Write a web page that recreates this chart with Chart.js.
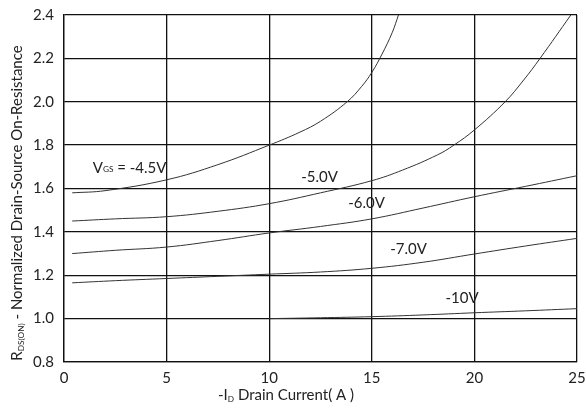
<!DOCTYPE html>
<html>
<head>
<meta charset="utf-8">
<script src="https://cdn.jsdelivr.net/npm/chart.js@4.4.0/dist/chart.umd.min.js"></script>
<style>
  html, body { margin: 0; padding: 0; background: #fff; }
  #wrap { width: 586px; height: 409px; }
</style>
</head>
<body>
<div id="wrap"><canvas id="chart"></canvas></div>
<script>
// -ID drain current (A) vs normalized RDS(ON), one curve per VGS
const vgs45X = [0.4, 2, 5, 7.5, 10, 11.5, 12.5, 13.8, 14.5, 15, 15.5, 16, 16.3];
const vgs45Y = [1.58, 1.59, 1.64, 1.71, 1.80, 1.86, 1.91, 2.00, 2.07, 2.135, 2.22, 2.32, 2.40];

const vgs50X = [0.4, 2.5, 5, 7.5, 10, 12.5, 15, 16.5, 18.2, 19, 20, 21.5, 22.4, 23.2, 24.7];
const vgs50Y = [1.45, 1.46, 1.47, 1.495, 1.53, 1.58, 1.636, 1.685, 1.755, 1.80, 1.87, 2.00, 2.10, 2.20, 2.40];

const vgs60X = [0.4, 2.5, 5, 7.5, 10, 12.5, 15, 17.5, 20, 22.5, 25];
const vgs60Y = [1.30, 1.315, 1.33, 1.36, 1.395, 1.425, 1.46, 1.51, 1.562, 1.61, 1.659];

const vgs70X = [0.4, 2.5, 5, 7.5, 10, 12.5, 15, 17.5, 20, 22.5, 25];
const vgs70Y = [1.165, 1.175, 1.185, 1.195, 1.205, 1.215, 1.232, 1.26, 1.298, 1.335, 1.37];

const vgs100X = [10, 12.5, 15, 17.5, 20, 22.5, 25];
const vgs100Y = [1.0, 1.004, 1.009, 1.017, 1.027, 1.036, 1.046];

const currentTicks = [0, 5, 10, 15, 20, 25];
const resistanceTicks = [0.8, 1.0, 1.2, 1.4, 1.6, 1.8, 2.0, 2.2, 2.4];

const curveNames = ['-4.5V', '-5.0V', '-6.0V', '-7.0V', '-10V'];
// where each curve label sits, in data units
const labelX = [1.4, 12.45, 14.74, 16.79, 19.4];
const labelY = [1.695, 1.653, 1.533, 1.321, 1.095];

const FONT = 'Lato, "Open Sans", sans-serif';
const INK = '#222';

function toPoints(xs, ys) {
  return xs.map((x, i) => ({ x: x, y: ys[i] }));
}

function curve(xs, ys) {
  return {
    data: toPoints(xs, ys),
    borderColor: '#333',
    borderWidth: 1,
    pointRadius: 0,
    fill: false,
    tension: 0.4
  };
}

// draws text pieces, some as subscripts, centered or left aligned at x
function drawParts(ctx, parts, x, y, size, align) {
  let total = 0;
  parts.forEach(p => {
    ctx.font = (p.sub ? size * 0.55 : size) + 'px ' + FONT;
    p.w = ctx.measureText(p.t).width;
    total += p.w;
  });
  let cx = align === 'center' ? x - total / 2 : x;
  parts.forEach(p => {
    ctx.font = (p.sub ? size * 0.55 : size) + 'px ' + FONT;
    ctx.fillText(p.t, cx, p.sub ? y + size * 0.12 : y);
    cx += p.w;
  });
}

const textPlugin = {
  id: 'texts',
  afterDraw(chart) {
    const ctx = chart.ctx;
    const xs = chart.scales.x, ys = chart.scales.y;
    ctx.save();
    ctx.fillStyle = INK;
    ctx.textAlign = 'left';
    ctx.textBaseline = 'middle';

    // curve labels
    curveNames.forEach((name, i) => {
      const px = xs.getPixelForValue(labelX[i]);
      const py = ys.getPixelForValue(labelY[i]);
      if (i === 0) {
        drawParts(ctx, [{ t: 'V' }, { t: 'GS', sub: true }, { t: ' = ' + name }], px, py, 15, 'left');
      } else {
        drawParts(ctx, [{ t: name }], px, py, 15, 'center');
      }
    });

    // x axis title
    ctx.textBaseline = 'alphabetic';
    drawParts(ctx, [{ t: '-I' }, { t: 'D', sub: true }, { t: ' Drain Current( A )' }], 286, 400, 15, 'center');

    // y axis title
    ctx.translate(22, 203);
    ctx.rotate(-Math.PI / 2);
    drawParts(ctx, [{ t: 'R' }, { t: 'DS(ON)', sub: true }, { t: ' - Normalized Drain-Source On-Resistance' }], 0, 0, 15, 'center');
    ctx.restore();
  }
};

new Chart(document.getElementById('chart'), {
  type: 'line',
  data: {
    datasets: [
      curve(vgs45X, vgs45Y),
      curve(vgs50X, vgs50Y),
      curve(vgs60X, vgs60Y),
      curve(vgs70X, vgs70Y),
      curve(vgs100X, vgs100Y)
    ]
  },
  options: {
    responsive: true,
    maintainAspectRatio: false,
    animation: false,
    layout: { padding: { top: 15, right: 9, left: 0, bottom: 0 } },
    plugins: { legend: { display: false }, tooltip: { enabled: false } },
    scales: {
      x: {
        type: 'linear',
        min: 0,
        max: 25,
        afterBuildTicks: s => { s.ticks = currentTicks.map(v => ({ value: v })); },
        afterFit: s => { s.height = 47; s.paddingLeft = 0; s.paddingRight = 0; },
        grid: { color: '#111', lineWidth: 1.3, drawTicks: false },
        border: { color: '#111', width: 1.3 },
        ticks: { color: INK, font: { family: FONT, size: 15 }, padding: 7, maxRotation: 0 }
      },
      y: {
        type: 'linear',
        min: 0.8,
        max: 2.4,
        afterBuildTicks: s => { s.ticks = resistanceTicks.map(v => ({ value: v })); },
        afterFit: s => { s.width = 64; s.paddingTop = 0; s.paddingBottom = 0; },
        grid: { color: '#111', lineWidth: 1.3, drawTicks: false },
        border: { color: '#111', width: 1.3 },
        ticks: {
          color: INK,
          font: { family: FONT, size: 15 },
          padding: 10,
          callback: v => v.toFixed(1)
        }
      }
    }
  },
  plugins: [textPlugin]
});
</script>
</body>
</html>
